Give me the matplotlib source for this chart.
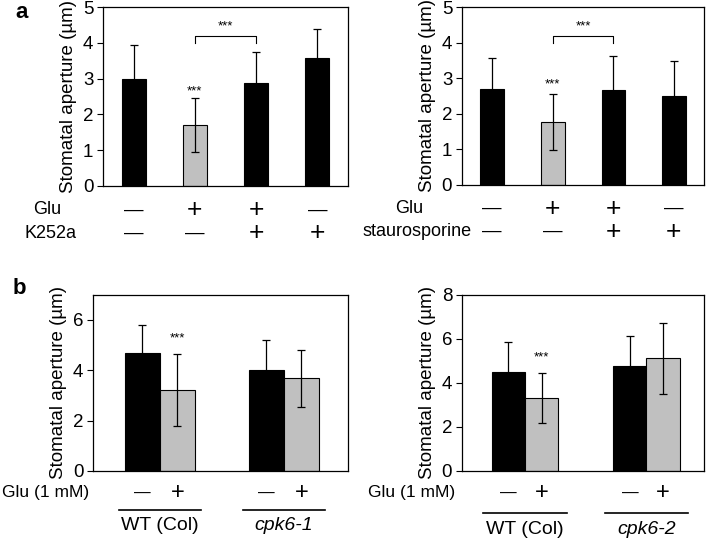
import numpy as np
import matplotlib
matplotlib.use("Agg")
import matplotlib.pyplot as plt

plt.rcParams['font.family'] = ['Liberation Sans', 'DejaVu Sans']

# panel a, left: Glu / K252a
a1_means = [3.00, 1.70, 2.88, 3.59]
a1_err = [0.94, 0.76, 0.86, 0.80]
a1_glu = ['—', '+', '+', '—']
a1_drug = ['—', '—', '+', '+']
a1_colors = ['black', '#c0c0c0', 'black', 'black']

# panel a, right: Glu / staurosporine
a2_means = [2.71, 1.77, 2.68, 2.51]
a2_err = [0.86, 0.78, 0.94, 0.98]
a2_glu = ['—', '+', '+', '—']
a2_drug = ['—', '—', '+', '+']

# panel b: WT vs cpk6 mutants, Glu -/+
b1_means = [4.68, 3.22, 4.01, 3.69]
b1_err = [1.13, 1.43, 1.20, 1.13]
b2_means = [4.48, 3.32, 4.77, 5.11]
b2_err = [1.38, 1.13, 1.34, 1.60]
b_glu = ['—', '+', '—', '+']
b_colors = ['black', '#c0c0c0', 'black', '#c0c0c0']
b1_groups = ['WT (Col)', 'cpk6-1']
b2_groups = ['WT (Col)', 'cpk6-2']

fig = plt.figure(figsize=(7.08, 5.47), dpi=100)

FS = 13


def style_axis(ax, ymax, step):
    ax.set_ylim(0, ymax)
    ax.set_yticks(np.arange(0, ymax + 0.01, step))
    ax.set_xticks([])
    ax.tick_params(axis='y', direction='out', length=4, width=0.8, labelsize=13.5, pad=3)
    for s in ax.spines.values():
        s.set_linewidth(0.9)
    ax.set_ylabel('Stomatal aperture (µm)', fontsize=13.5, labelpad=4)


def sign_size(s, big):
    return big if s == '+' else big - 5


def panel_a(ax, means, err, glu, drug, drug_name, glu_x, drug_x, star_y):
    x = np.arange(len(means))
    ax.bar(x, means, width=0.39, color=a1_colors, edgecolor='black', linewidth=0.8)
    ax.errorbar(x, means, yerr=err, fmt='none', ecolor='black', elinewidth=0.9,
                capsize=3, capthick=0.9)
    ax.set_xlim(-0.5, 3.5)
    style_axis(ax, 5, 1)
    # bracket between Glu and Glu + inhibitor
    ax.plot([1, 1, 2, 2], [4.0, 4.2, 4.2, 4.0], color='black', lw=0.8)
    ax.text(1.5, 4.38, '***', ha='center', va='baseline', fontsize=9.5)
    ax.text(1, star_y, '***', ha='center', va='baseline', fontsize=9.5)
    tr = ax.get_xaxis_transform()
    for xi, g, d in zip(x, glu, drug):
        ax.text(xi, -0.134, g, transform=tr, ha='center', va='center', fontsize=sign_size(g, 19))
        ax.text(xi, -0.263, d, transform=tr, ha='center', va='center', fontsize=sign_size(d, 19))
    ax.text(glu_x, -0.134, 'Glu', transform=ax.transAxes, ha='center', va='center', fontsize=FS)
    ax.text(drug_x, -0.263, drug_name, transform=ax.transAxes, ha='center', va='center', fontsize=FS)


def panel_b(ax, means, err, groups, offset, xlim, ymax, star_y, line_y, label_y, half, glu_x):
    x = np.array([0, 1, offset, offset + 1])
    ax.bar(x, means, width=1.0, color=b_colors, edgecolor='black', linewidth=0.8)
    ax.errorbar(x, means, yerr=err, fmt='none', ecolor='black', elinewidth=0.9,
                capsize=3, capthick=0.9)
    ax.set_xlim(*xlim)
    style_axis(ax, ymax, 2)
    ax.text(1, star_y, '***', ha='center', va='baseline', fontsize=9.5)
    tr = ax.get_xaxis_transform()
    for xi, g in zip(x, b_glu):
        ax.text(xi, -0.125, g, transform=tr, ha='center', va='center',
                fontsize=sign_size(g, 17))
    ax.text(glu_x, -0.125, 'Glu (1 mM)', transform=ax.transAxes, ha='right', va='center', fontsize=12.5)
    for gi, name in enumerate(groups):
        mid = gi * offset + 0.5
        ax.plot([mid - half, mid + half], [line_y, line_y], transform=tr, color='black',
                lw=1.2, clip_on=False)
        ax.text(mid, label_y, name, transform=tr, ha='center', va='center', fontsize=14,
                style='italic' if gi == 1 else 'normal')


ax1 = fig.add_axes([0.1455, 0.660, 0.346, 0.327])
ax2 = fig.add_axes([0.6525, 0.662, 0.342, 0.325])
ax3 = fig.add_axes([0.1314, 0.139, 0.360, 0.322])
ax4 = fig.add_axes([0.6525, 0.139, 0.342, 0.322])

panel_a(ax1, a1_means, a1_err, a1_glu, a1_drug, 'K252a', -0.229, -0.216, 2.56)
panel_a(ax2, a2_means, a2_err, a2_glu, a2_drug, 'staurosporine', -0.219, -0.186, 2.73)
panel_b(ax3, b1_means, b1_err, b1_groups, 3.55, (-1.41, 5.88), 7, 5.15, -0.222, -0.307, 1.17, -0.015)
panel_b(ax4, b2_means, b2_err, b2_groups, 3.65, (-1.39, 5.88), 8, 5.0, -0.239, -0.335, 1.25, -0.03)

fig.text(0.031, 0.977, 'a', fontsize=16, fontweight='bold', ha='center', va='center')
fig.text(0.027, 0.472, 'b', fontsize=16, fontweight='bold', ha='center', va='center')

fig.savefig('out.png', dpi=100)
